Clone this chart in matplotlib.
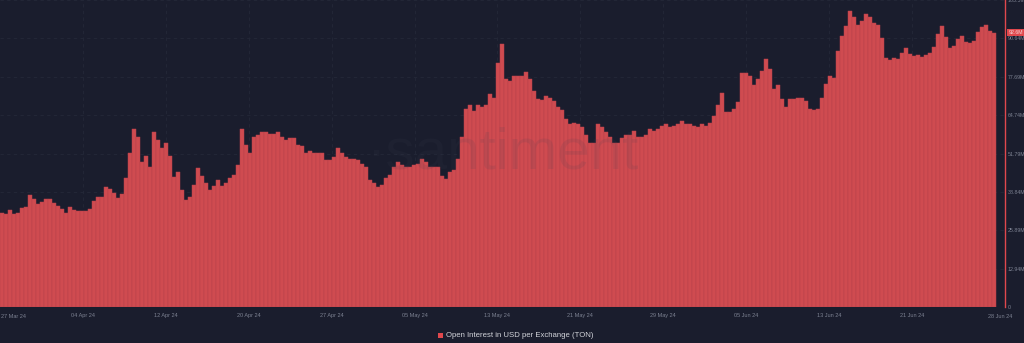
import numpy as np
import matplotlib.pyplot as plt

# open interest (millions USD), ~9h per bar
oi_values = [
    31.6, 31.3, 32.6, 31.3, 31.6, 33.3, 33.6, 37.7, 36.3, 34.7,
    35.3, 36.3, 36.3, 35.0, 34.0, 33.0, 31.6, 33.6, 32.6, 32.3,
    32.3, 32.3, 33.0, 35.7, 37.0, 37.0, 40.4, 39.7, 38.4, 36.7,
    38.0, 43.4, 51.8, 60.2, 57.2, 48.8, 51.1, 47.4, 58.9, 56.2,
    53.5, 55.2, 51.1, 43.7, 45.4, 39.4, 36.0, 37.0, 41.0, 46.8,
    44.1, 42.0, 39.4, 40.7, 42.7, 40.7, 42.0, 43.4, 44.7, 47.8,
    60.2, 54.5, 52.1, 57.5, 58.2, 59.2, 59.2, 58.5, 58.5, 58.9,
    57.5, 56.2, 56.9, 56.9, 54.8, 54.2, 52.1, 52.8, 52.1, 51.8,
    51.8, 49.5, 49.5, 50.5, 53.5, 51.8, 50.5, 50.1, 50.1, 49.5,
    48.4, 47.1, 42.7, 41.7, 40.4, 41.0, 43.4, 44.4, 47.4, 48.8,
    47.8, 47.4, 47.1, 47.8, 48.4, 50.1, 48.8, 47.4, 47.1, 47.1,
    44.1, 43.1, 45.4, 46.1, 50.1, 57.5, 66.9, 68.0, 66.3, 68.3,
    67.6, 68.0, 72.0, 70.6, 82.4, 88.8, 77.0, 76.4, 78.0, 78.0,
    78.0, 79.4, 77.0, 73.0, 70.3, 70.0, 71.3, 70.6, 69.6, 67.6,
    66.6, 63.6, 61.9, 62.2, 61.6, 60.6, 57.9, 55.2, 55.2, 61.9,
    60.6, 58.9, 57.2, 55.5, 55.5, 56.9, 58.2, 58.2, 59.5, 57.2,
    57.2, 57.9, 60.2, 59.5, 59.9, 61.2, 61.6, 60.9, 61.2, 61.9,
    62.9, 61.6, 61.6, 61.2, 60.9, 61.6, 61.2, 62.2, 64.6, 68.3,
    72.3, 65.9, 65.9, 66.9, 69.3, 79.1, 79.1, 78.0, 75.0, 77.0,
    79.7, 83.8, 80.4, 73.7, 75.0, 70.3, 67.6, 70.3, 70.3, 70.6,
    70.6, 69.6, 66.9, 66.6, 66.9, 70.6, 75.4, 78.0, 77.4, 86.5,
    91.5, 94.9, 99.9, 97.9, 95.2, 96.6, 98.9, 97.9, 95.9, 95.2,
    90.8, 84.1, 83.4, 84.1, 83.8, 85.8, 87.5, 85.4, 84.8, 85.1,
    84.4, 85.1, 85.8, 87.8, 92.2, 94.9, 91.2, 87.5, 88.1, 90.5,
    91.5, 89.5, 89.2, 89.8, 92.8, 94.5, 95.2, 93.2, 92.6,
]

date_labels = ['04 Apr 24', '12 Apr 24', '20 Apr 24', '27 Apr 24', '05 May 24',
               '13 May 24', '21 May 24', '29 May 24', '05 Jun 24', '13 Jun 24',
               '21 Jun 24']
first_label = '27 Mar 24'
last_label = '28 Jun 24'

y_ticks = [0, 12.94, 25.89, 38.84, 51.79, 64.74, 77.69, 90.64, 103.59]
y_tick_labels = ['0', '12.94M', '25.89M', '38.84M', '51.79M', '64.74M',
                 '77.69M', '90.64M', '103.59M']

bg = '#1a1d2d'
bar_color = '#cf4b50'
text_grey = '#7d8292'

plt.rcParams['font.family'] = ['Liberation Sans', 'DejaVu Sans']

fig = plt.figure(figsize=(10.24, 3.43), dpi=100, facecolor=bg)
ax = fig.add_axes([0, 36 / 343, 1005 / 1024, 307 / 343])
ax.set_facecolor(bg)

x = np.arange(len(oi_values))
ax.bar(x, oi_values, width=1.0, color=bar_color, edgecolor='#b8414a',
       linewidth=0.35, zorder=2)

ax.set_xlim(-0.5, 250.75)
ax.set_ylim(0, 103.59)

# grid
xt = np.linspace(20.25, 227.5, len(date_labels))
for t in xt:
    ax.axvline(t, color='#242838', lw=0.6, ls=(0, (4, 4)), zorder=1)
for t in y_ticks[1:]:
    ax.axhline(t, color='#242838', lw=0.6, ls=(0, (4, 4)), zorder=1)

ax.set_xticks(xt)
ax.set_xticklabels(date_labels)
ax.tick_params(axis='x', length=0, pad=4, labelsize=4, labelcolor=text_grey)
ax.text(-0.2, -2.5, first_label, fontsize=4, color=text_grey, ha='left',
        va='top', transform=ax.transData)
ax.text(249.5, -2.5, last_label, fontsize=4, color=text_grey, ha='center',
        va='top', transform=ax.transData, clip_on=False)

ax.yaxis.tick_right()
ax.set_yticks(y_ticks)
ax.set_yticklabels(y_tick_labels)
ax.tick_params(axis='y', length=0, pad=2, labelsize=3.8, labelcolor=text_grey)

for s in ['top', 'left', 'bottom']:
    ax.spines[s].set_visible(False)
ax.spines['right'].set_color('#e0484d')
ax.spines['right'].set_linewidth(1.0)

# last value badge
ax.annotate(f'{oi_values[-1]:.1f}M', xy=(1.0, oi_values[-1]),
            xycoords=('axes fraction', 'data'), xytext=(2.5, 0),
            textcoords='offset points', fontsize=3.8, color='#f4d6d6',
            va='center', ha='left',
            bbox=dict(boxstyle='square,pad=0.25', fc='#e0484d', ec='none'))

# watermark
ax.text(0.5, 0.5, '\u00b7santiment', transform=ax.transAxes, fontsize=42,
        color='#3c4152', alpha=0.12, ha='center', va='center', zorder=3)

# legend
fig.patches.append(plt.Rectangle((438 / 1024, 1 - 338 / 343), 5 / 1024, 5 / 343,
                                 transform=fig.transFigure, fc='#e0484d',
                                 ec='none'))
fig.text(446 / 1024, 1 - 335.5 / 343, 'Open Interest in USD per Exchange (TON)',
         fontsize=5.6, color='#d2d4da', ha='left', va='center')

fig.savefig('out.png', dpi=100, facecolor=bg)
